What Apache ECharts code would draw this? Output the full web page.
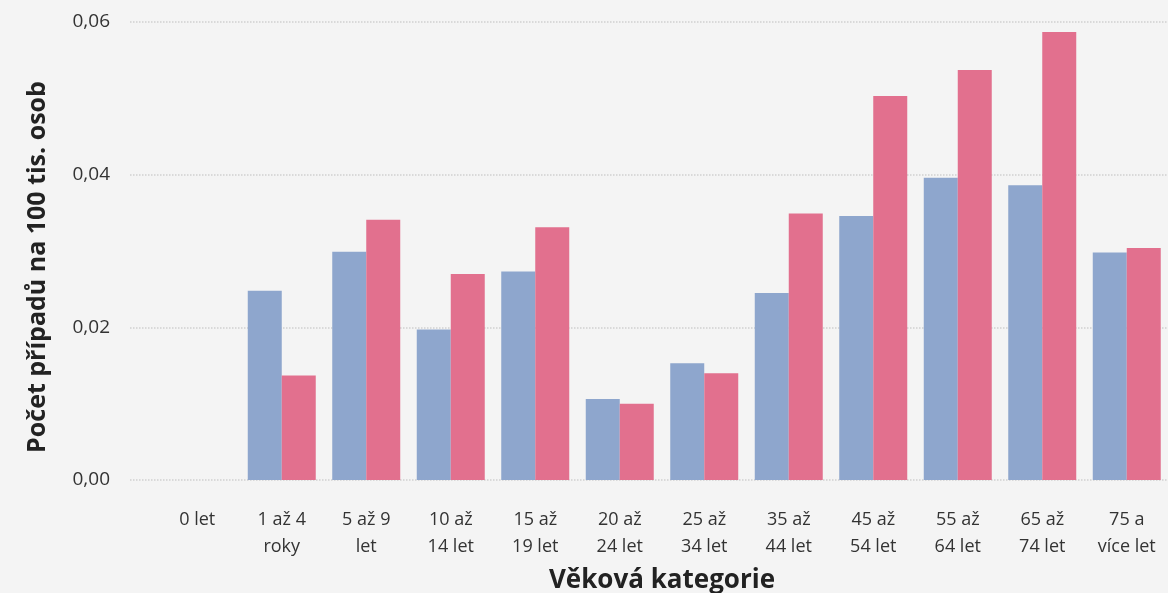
<!DOCTYPE html>
<html>
<head>
    <meta charset="utf-8">
    <title>Počet případů na 100 tis. osob</title>
    <script src="https://cdn.jsdelivr.net/npm/echarts@6.0.0/dist/echarts.min.js"></script>
    <style>
        html, body { margin: 0; padding: 0; background: #f4f4f4; }
        #chart { width: 1168px; height: 593px; }
    </style>
</head>
<body>
    <div id="chart"></div>
    <script>
        // věkové kategorie (osa x)
        const categories = [
            '0 let', '1 až 4\nroky', '5 až 9\nlet', '10 až\n14 let', '15 až\n19 let', '20 až\n24 let',
            '25 až\n34 let', '35 až\n44 let', '45 až\n54 let', '55 až\n64 let', '65 až\n74 let', '75 a\nvíce let'
        ];
        // modrá řada
        const blueValues = [null, 0.0248, 0.0299, 0.0197, 0.0273, 0.0106, 0.0153, 0.0245, 0.0346, 0.0396, 0.0386, 0.0298];
        // růžová řada
        const pinkValues = [null, 0.0137, 0.0341, 0.0270, 0.0331, 0.0100, 0.0140, 0.0349, 0.0503, 0.0537, 0.0587, 0.0304];
        // popisky osy y
        const yTicks = [0, 0.02, 0.04, 0.06];

        const chart = echarts.init(document.getElementById('chart'));
        const font = "'Open Sans', 'Noto Sans', sans-serif";
        const yMin = yTicks[0], yMax = yTicks[yTicks.length - 1];

        chart.setOption({
            backgroundColor: '#f4f4f4',
            animation: false,
            textStyle: { fontFamily: font },
            grid: [
                // hlavní plocha se sloupci
                { left: 155, width: 1014, top: 22, height: 458, outerBoundsMode: 'none' },
                // pomocná plocha jen kvůli mřížce, začíná víc vlevo
                { left: 130, width: 1039, top: 22, height: 458, outerBoundsMode: 'none' }
            ],
            xAxis: [
                {
                    type: 'category',
                    gridIndex: 0,
                    data: categories,
                    axisLine: { show: false },
                    axisTick: { show: false },
                    axisLabel: {
                        color: '#333', fontSize: 18, lineHeight: 27, margin: 26,
                        interval: 0, fontFamily: font
                    },
                    name: 'Věková kategorie',
                    nameLocation: 'middle',
                    nameGap: 88,
                    nameTextStyle: { color: '#222', fontSize: 26, fontWeight: 'bold', fontFamily: font }
                },
                {
                    type: 'value',
                    gridIndex: 1,
                    show: false
                }
            ],
            yAxis: [
                {
                    type: 'value',
                    gridIndex: 0,
                    min: yMin, max: yMax, interval: 0.02,
                    axisLine: { show: false },
                    axisTick: { show: false },
                    axisLabel: { show: false },
                    splitLine: { show: false }
                },
                {
                    type: 'value',
                    gridIndex: 1,
                    min: yMin, max: yMax, interval: 0.02,
                    axisLine: { show: false },
                    axisTick: { show: false },
                    axisLabel: {
                        color: '#333', fontSize: 19, margin: 20, fontFamily: font,
                        formatter: v => v.toFixed(2).replace('.', ',')
                    },
                    splitLine: { lineStyle: { color: '#cfcfcf', type: 'dotted', width: 1.5 } },
                    name: 'Počet případů na 100 tis. osob',
                    nameLocation: 'middle',
                    nameGap: 80,
                    nameRotate: 90,
                    nameTextStyle: {
                        color: '#222', fontSize: 25, fontWeight: 'bold', fontFamily: font,
                        padding: [0, 32, 0, 0]
                    }
                }
            ],
            series: [
                {
                    type: 'bar',
                    xAxisIndex: 0, yAxisIndex: 0,
                    data: blueValues,
                    barWidth: 34,
                    barGap: '0%',
                    itemStyle: { color: '#8ea6cd' }
                },
                {
                    type: 'bar',
                    xAxisIndex: 0, yAxisIndex: 0,
                    data: pinkValues,
                    barWidth: 34,
                    itemStyle: { color: '#e2708e' }
                }
            ]
        });
    </script>
</body>
</html>
